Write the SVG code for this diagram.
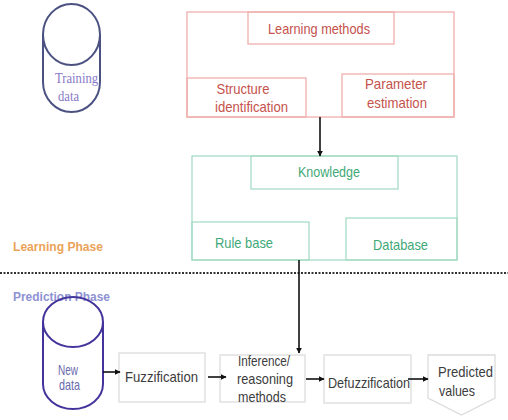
<svg xmlns="http://www.w3.org/2000/svg" width="508" height="420" viewBox="0 0 508 420">
<defs>
<marker id="ah" viewBox="0 0 10 10" refX="9" refY="5" markerWidth="6" markerHeight="6" markerUnits="userSpaceOnUse" orient="auto"><path d="M0,0 L10,5 L0,10 z" fill="#111"/></marker>
<style>
text{font-family:"Liberation Sans",Arial,sans-serif;font-size:14.5px}
.red rect{fill:none;stroke:#eeb0ad;stroke-width:1.3}
.red text{fill:#c5524c;text-anchor:middle}
.grn rect{fill:none;stroke:#a6dcc6;stroke-width:1.3}
.grn text{fill:#3fa878;text-anchor:middle}
.gry rect,.gry path{fill:#fff;stroke:#dcdcdc;stroke-width:1.3}
.gry text{fill:#3c3c3c;text-anchor:middle}
.cyl{fill:none;stroke-width:2}
.ser{font-family:"Liberation Serif","Times New Roman",serif;font-size:15.5px;fill:#8878c8}
.conn line{stroke:#111;stroke-width:1.6;marker-end:url(#ah)}
</style>
</defs>
<rect width="508" height="420" fill="#fff"/>

<g id="training-data">
<ellipse class="cyl" cx="71.5" cy="34.5" rx="28.5" ry="30.5" stroke="#4b5282"/>
<path class="cyl" stroke="#4b5282" d="M43,34.5 V82 A28.5,30 0 0 0 100,82 V34.5"/>
<text class="ser" x="55" y="83" textLength="43" lengthAdjust="spacingAndGlyphs">Training</text>
<text class="ser" x="58" y="101" textLength="21" lengthAdjust="spacingAndGlyphs">data</text>
</g>

<g id="learning" class="red">
<rect x="187" y="12" width="267" height="105"/>
<rect x="248" y="12" width="146" height="32"/>
<text x="319" y="34" textLength="102" lengthAdjust="spacingAndGlyphs">Learning methods</text>
<rect x="187" y="78" width="119" height="39"/>
<text x="243" y="94" textLength="53" lengthAdjust="spacingAndGlyphs">Structure</text>
<text x="251.5" y="112" textLength="73" lengthAdjust="spacingAndGlyphs">identification</text>
<rect x="342" y="74" width="112" height="43"/>
<text x="396" y="89" textLength="62" lengthAdjust="spacingAndGlyphs">Parameter</text>
<text x="397" y="108" textLength="60" lengthAdjust="spacingAndGlyphs">estimation</text>
</g>

<g id="knowledge" class="grn">
<rect x="192" y="156" width="265" height="104"/>
<rect x="251" y="156" width="147" height="33"/>
<text x="329" y="177" textLength="62" lengthAdjust="spacingAndGlyphs">Knowledge</text>
<rect x="192" y="222" width="117" height="38"/>
<text x="244" y="248" textLength="58" lengthAdjust="spacingAndGlyphs">Rule base</text>
<rect x="346" y="218" width="111" height="42"/>
<text x="400.5" y="250" textLength="55" lengthAdjust="spacingAndGlyphs">Database</text>
</g>

<g id="phases">
<text x="13" y="251" style="font-weight:bold;font-size:12.5px" fill="#eba35a" textLength="90" lengthAdjust="spacingAndGlyphs">Learning Phase</text>
<line x1="0" y1="273" x2="508" y2="273" stroke="#333" stroke-width="2" stroke-dasharray="2,1.5"/>
<text x="13" y="301" style="font-weight:bold;font-size:12.5px" fill="#8e92d2" textLength="97" lengthAdjust="spacingAndGlyphs">Prediction Phase</text>
</g>

<g id="new-data">
<ellipse class="cyl" cx="73" cy="322" rx="30" ry="25" stroke="#43349c"/>
<path class="cyl" stroke="#43349c" d="M43,322 V384 A30,25 0 0 0 103,384 V322"/>
<text x="68" y="375" text-anchor="middle" fill="#6a6aae" textLength="20" lengthAdjust="spacingAndGlyphs">New</text>
<text x="69.5" y="390" text-anchor="middle" fill="#6a6aae" textLength="21" lengthAdjust="spacingAndGlyphs">data</text>
</g>

<g id="fuzzification" class="gry">
<rect x="119" y="353" width="86" height="49"/>
<text x="161.5" y="382" textLength="73" lengthAdjust="spacingAndGlyphs">Fuzzification</text>
</g>

<g id="inference" class="gry">
<rect x="220" y="355" width="85" height="47"/>
<text x="264" y="366" textLength="52" lengthAdjust="spacingAndGlyphs">Inference/</text>
<text x="265" y="384" textLength="56" lengthAdjust="spacingAndGlyphs">reasoning</text>
<text x="262" y="402" textLength="48" lengthAdjust="spacingAndGlyphs">methods</text>
</g>

<g id="defuzzification" class="gry">
<rect x="324" y="355" width="87" height="48"/>
<text x="369" y="388" textLength="82" lengthAdjust="spacingAndGlyphs">Defuzzification</text>
</g>

<g id="predicted" class="gry">
<path d="M428,355 H495 V398 L461.5,415 L428,398 Z"/>
<text x="465.5" y="377" textLength="55" lengthAdjust="spacingAndGlyphs">Predicted</text>
<text x="457" y="396" textLength="36" lengthAdjust="spacingAndGlyphs">values</text>
</g>

<g id="connectors" class="conn">
<line x1="320" y1="117" x2="320" y2="156"/>
<line x1="299" y1="260" x2="299" y2="353"/>
<line x1="103" y1="372" x2="120" y2="372"/>
<line x1="208" y1="377" x2="226" y2="377"/>
<line x1="306" y1="379" x2="324" y2="379"/>
<line x1="408" y1="379" x2="428" y2="379"/>
</g>
</svg>
